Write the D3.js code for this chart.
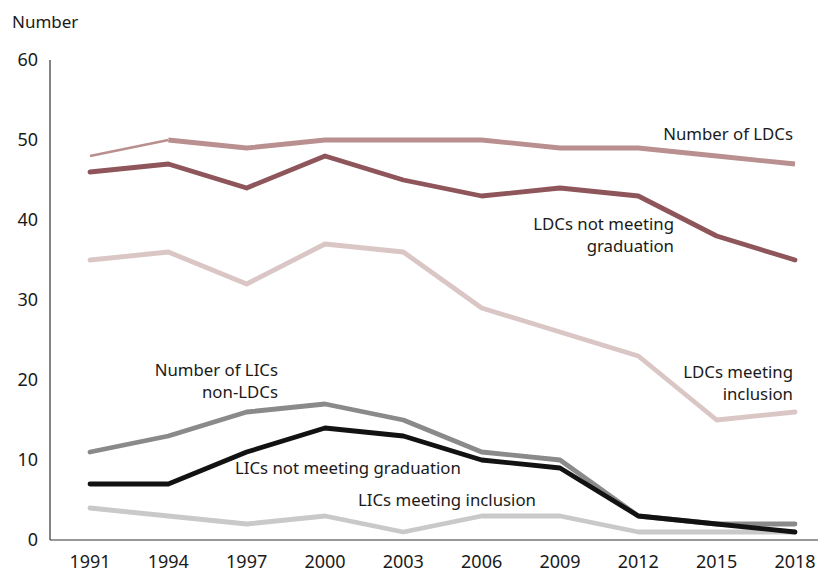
<!DOCTYPE html>
<html><head><meta charset="utf-8">
<script src="https://cdn.jsdelivr.net/npm/d3@7"></script>
<style>body{margin:0;background:#fff}svg{display:block}text{font-family:"Noto Sans",sans-serif;fill:#1a1a1a}</style>
</head><body><div id="chart"></div>
<script>
const years = [1991,1994,1997,2000,2003,2006,2009,2012,2015,2018];
const yTicks = [0,10,20,30,40,50,60];
const numberLDCs      = [48,50,49,50,50,50,49,49,48,47];
const ldcsNotMeeting  = [46,47,44,48,45,43,44,43,38,35];
const ldcsInclusion   = [35,36,32,37,36,29,26,23,15,16];
const licsNonLDCs     = [11,13,16,17,15,11,10,3,2,2];
const licsNotMeeting  = [7,7,11,14,13,10,9,3,2,1];
const licsInclusion   = [4,3,2,3,1,3,3,1,1,1];

const series = [
  {name:"LICs meeting inclusion", values:licsInclusion, color:"#c9c9c9"},
  {name:"Number of LICs non-LDCs", values:licsNonLDCs, color:"#8a8a8a"},
  {name:"LICs not meeting graduation", values:licsNotMeeting, color:"#121212"},
  {name:"LDCs meeting inclusion", values:ldcsInclusion, color:"#dbc6c6"},
  {name:"LDCs not meeting graduation", values:ldcsNotMeeting, color:"#8e555b"},
  {name:"Number of LDCs", values:numberLDCs, color:"#b98f8f", thinFirst:true}
];

const W=825,H=574;
const svg=d3.select("#chart").append("svg").attr("width",W).attr("height",H);
const x=d3.scalePoint().domain(years).range([90,795]);
const y=d3.scaleLinear().domain([0,60]).range([540,60]);

// axes
svg.append("line").attr("x1",50).attr("x2",50).attr("y1",y(60)).attr("y2",y(0)).attr("stroke","#333").attr("stroke-width",1.2);
svg.append("line").attr("x1",50).attr("x2",818).attr("y1",y(0)).attr("y2",y(0)).attr("stroke","#333").attr("stroke-width",1.2);
svg.selectAll(".yt").data(yTicks).enter().append("text")
  .attr("x",38).attr("y",d=>y(d)).attr("dy","0.35em").attr("text-anchor","end")
  .style("font-size","18px").text(d=>d);
svg.selectAll(".xt").data(years).enter().append("text")
  .attr("x",d=>x(d)).attr("y",562).attr("dy","0.35em").attr("text-anchor","middle")
  .style("font-size","18px").text(d=>d);
svg.append("text").attr("x",12).attr("y",22).attr("dy","0.35em").style("font-size","17px").text("Number");

const line=d3.line().x(d=>x(d[0])).y(d=>y(d[1]));
series.forEach(s=>{
  const pts=years.map((yr,i)=>[yr,s.values[i]]);
  if(s.thinFirst){
    svg.append("path").attr("d",line(pts.slice(0,2))).attr("fill","none").attr("stroke",s.color).attr("stroke-width",2.4);
    svg.append("path").attr("d",line(pts.slice(1))).attr("fill","none").attr("stroke",s.color).attr("stroke-width",4.8).attr("stroke-linejoin","round");
  } else {
    svg.append("path").attr("d",line(pts)).attr("fill","none").attr("stroke",s.color).attr("stroke-width",4.8).attr("stroke-linejoin","round").attr("stroke-linecap","round");
  }
});

// labels
const labels=[
  {lines:["Number of LDCs"], x:793, y:134, anchor:"end"},
  {lines:["LDCs not meeting","graduation"], x:674, y:224, anchor:"end"},
  {lines:["LDCs meeting","inclusion"], x:793, y:372, anchor:"end"},
  {lines:["Number of LICs","non-LDCs"], x:278, y:370, anchor:"end"},
  {lines:["LICs not meeting graduation"], x:235, y:468, anchor:"start"},
  {lines:["LICs meeting inclusion"], x:358, y:500, anchor:"start"}
];
labels.forEach(l=>{
  l.lines.forEach((t,i)=>{
    svg.append("text").attr("x",l.x).attr("y",l.y+i*22).attr("dy","0.35em")
      .attr("text-anchor",l.anchor).style("font-size","16.8px").text(t);
  });
});
</script></body></html>
